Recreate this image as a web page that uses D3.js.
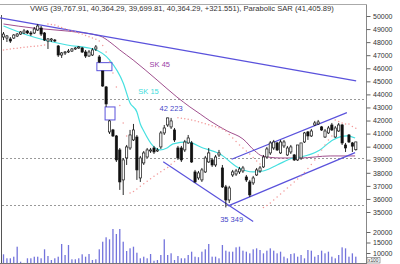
<!DOCTYPE html>
<html><head><meta charset="utf-8">
<script src="https://cdn.jsdelivr.net/npm/d3@7"></script>
<style>html,body{margin:0;padding:0;background:#fff;overflow:hidden}svg{display:block}</style>
</head><body><svg id="c" width="400" height="264"></svg>
<script>
// ---- data ----
const openV = [48390,48315,48240,48315,48470,48620,48700,48850,48700,48700,48930,49080,48700,48085,48160,48160,47705,47015,47170,47245,47320,47475,47550,47550,47245,46940,47015,47475,46865,45790,44570,41125,41280,40820,39750,37455,39135,39900,40515,40740,37605,38755,39210,39670,39900,39670,39980,41050,41660,41510,41280,39900,39900,39750,40285,40285,38065,37605,37455,38065,38830,38985,38600,39365,38370,36920,35920,37835,37910,38065,38140,37680,37300,37225,37835,38140,38450,39210,39520,39900,40285,39520,40055,39365,39595,39365,38985,39135,40360,41125,40820,41660,41740,41510,40740,41050,41660,40740,41200,41660,40130,40895,40285,39767.91];
const highV = [48775,48545,48390,48620,48700,48850,49005,48930,48850,49160,49390,49235,48775,48315,48315,48240,47780,47245,47320,47475,47550,47630,47705,47630,47400,47400,47550,47780,47015,45800,44645,42045,41355,40895,39900,39135,40130,41280,41740,40895,39290,39670,39900,39900,40055,39900,41200,41660,42223,42200,41430,40055,40055,40515,40895,40435,38220,38140,38370,39290,39900,39135,39365,39750,38600,37070,37000,38220,38295,38450,38525,37835,37455,37760,38370,38525,39365,39980,40435,40515,40360,40515,40515,40055,40130,39440,40130,40285,41125,41200,41355,41970,42045,41585,41355,41585,41815,41585,41815,41740,40285,40970,40360,40364.29];
const lowV = [48160,48010,47935,48240,48390,48545,48620,48620,48470,48620,48850,48470,48085,47475,48010,48010,46865,46790,47015,47170,47245,47400,47475,47170,46790,46865,46940,47320,46405,44570,43040,40970,40740,38830,36690,36300,38600,39750,40435,37455,37300,38600,39135,39520,39440,39595,39825,40895,41510,41355,40360,38985,38830,39595,40210,38755,37225,37455,37300,37990,38755,38450,38450,39210,36840,35349,35690,37680,37760,37910,37990,37300,36150,37070,37760,37990,38370,39135,39365,39750,39670,39440,39900,39290,39440,38905,38905,38985,40285,40515,40740,41585,41660,41200,40665,40970,41200,40665,41125,40130,39595,40285,39595,39699.81];
const closeV = [48620,48470,48085,48545,48620,48775,48850,48700,48620,49005,49235,48620,48160,48240,48240,48085,47015,47170,47245,47320,47475,47550,47630,47245,46940,47245,47400,47630,46480,44645,43270,41970,40820,38985,37300,38985,39980,40895,41280,38220,39135,39520,39750,39750,39595,39750,41050,41430,42200,41970,40515,39135,38985,40360,40665,38830,37300,37990,38220,39135,39520,38600,39210,39520,36920,35920,36840,38065,38140,38295,38370,37455,36305,37605,38220,38370,39210,39825,40285,40360,39750,40360,40360,39900,39980,38985,40130,40285,41050,40820,41200,41815,41890,41280,41200,41430,41280,41430,41660,40285,39900,40360,40040,40364.29];
const volumeV = [9380,7480,7480,8240,13000,5860,5300,7480,7480,8240,8240,7480,11760,8570,6670,7480,8240,14290,9050,13800,7000,7000,7480,9380,8240,9520,6670,7000,11760,15380,17480,16520,21430,19050,21430,15380,10950,12240,13000,10140,7480,8240,7480,9520,6330,6670,9050,16520,9050,9860,6670,8570,7480,7480,9050,10620,8240,8000,
  10630,11750,14290,8250,8250,7460,13810,11110,10630,10630,12700,13020,11110,10630,9840,11750,12220,11430,9840,11110,12220,11110,9840,10630,8250,7460,9520,9840,8250,9050,7460,11430,11110,8250,9050,11110,9840,10630,8250,7460,9050,12700,12220,8250,9840,8250];
const sarV = [47400,47440,47475,47505,47535,47570,47600,47630,47660,47680,47705,47745,47780,
  49390,49350,49310,49210,49120,49030,48935,48850,48775,48700,48620,48515,48415,48315,48225,48085,47735,47245,46505,45640,44570,43145,41815,40820,
  36460,36560,36765,36970,37170,37360,37550,37735,37910,38080,38250,38410,38650,38870,
  42220,42180,42140,42090,42040,41980,41910,41830,41750,41680,41600,41520,41450,41360,41200,40935,40670,40400,40130,39900,39670,39440,39175,38910,38680,
  35350,35500,35690,35920,36150,36380,36610,36840,37070,37300,37530,37760,38030,38330,38640,38980,39370,39750,40130,40510,40820,
  42040,41930,41810,41740,41740,41550,41405.89];
const sk15Idx = [0,6.9,18.6,26.2,31,35,37,39,40,41,43.7,45.8,47.8,49.6,53.7,58.3,63.3,68.3,73,75.9,80,84.7,86.7,92.5,96.3,100.4,102.8];
const sk15Val = [49235,48545,47780,47475,46635,44870,43345,42655,41740,41200,40055,39750,39900,40210,40360,39900,39440,38450,38065,38140,38600,39135,39210,39750,40515,40820,40665];
const sk45Idx = [0,8.6,18.6,28.2,31.1,34,37.9,44.9,50.7,54.5,57.5,60.4,65.4,70,73.5,75.6,80.8,86.7,95.5,102.8];
const sk45Val = [49390,49080,48850,48470,48010,47400,46635,45100,43800,43040,42500,41970,41200,40590,39670,39290,39135,39135,39290,39290];
const trendFrom = [[-1,49850],[46.7,38850],[65.7,35465],[66.7,39037]];
const trendTo = [[103.1,45030],[73.0,34265],[102.8,39543],[100.4,42602]];
const gapStart = [27.3,29.7], gapEnd = [31.7,32.6], gapHigh = [46430,43040], gapLow = [45815,42045];
const levelLines = [43650,39140,35540];
const priceTicks = [50000,49000,48000,47000,46000,45000,44000,43000,42000,41000,40000,39000,38000,37000,36000,35000];
const volTicks = [20000,15000,10000];
const headerText = "VWG (39,767.91, 40,364.29, 39,699.81, 40,364.29, +321.551), Parabolic SAR (41,405.89)";
const annotText = ["42 223","35 349","SK 45","SK 15"];
const annotIdx = [49,66.7,45.7,42.4];
const annotVal = [42223,35349,46060,44030];

// ---- scales ----
const svg = d3.select("#c");
const n = closeV.length;
const x = d3.scaleLinear().domain([0, n-1]).range([3.5, 355.8]);
const y = d3.scaleLinear().domain([35000, 50000]).range([212, 16]);
const yv = d3.scaleLinear().domain([10000, 20000]).range([253, 232]);
const right = 366.5, bottom = 263;

// frame
svg.append("line").attr("x1",0).attr("x2",right).attr("y1",4.5).attr("y2",4.5).attr("stroke","#aaa");
svg.append("line").attr("x1",right).attr("x2",right).attr("y1",4.5).attr("y2",264).attr("stroke","#888");
svg.append("line").attr("x1",1.5).attr("x2",1.5).attr("y1",15).attr("y2",264).attr("stroke","#555");
svg.append("line").attr("x1",0).attr("x2",right).attr("y1",bottom+0.5).attr("y2",bottom+0.5).attr("stroke","#777");

svg.append("text").attr("x",30).attr("y",10.5).attr("font-family","Liberation Sans, Arial, sans-serif")
  .attr("font-size",7.6).attr("fill","#333").text(headerText);

// level lines
svg.selectAll(".lvl").data(levelLines).join("line").attr("class","lvl")
  .attr("x1",2).attr("x2",right).attr("y1",d=>Math.round(y(d))+0.5).attr("y2",d=>Math.round(y(d))+0.5)
  .attr("stroke","#999").attr("stroke-dasharray","2,2");

// axes
const fmt = d3.format("d");
const gA = svg.append("g").attr("transform",`translate(${right},0)`)
  .call(d3.axisRight(y).tickValues(priceTicks).tickSize(4).tickPadding(2.5).tickFormat(fmt));
const gV = svg.append("g").attr("transform",`translate(${right},0)`)
  .call(d3.axisRight(yv).tickValues(volTicks).tickSize(4).tickPadding(2.5).tickFormat(fmt));
[gA,gV].forEach(g=>{
  g.select(".domain").remove();
  g.selectAll("line").attr("stroke","#666");
  g.selectAll("text").attr("font-family","Liberation Sans, Arial, sans-serif").attr("font-size",7).attr("fill","#333");
});
svg.append("rect").attr("x",367).attr("y",257.5).attr("width",13).attr("height",5.5).attr("fill","#fff").attr("stroke","#666").attr("stroke-width",0.6);
svg.append("text").attr("x",368).attr("y",262).attr("font-family","Liberation Sans, Arial, sans-serif").attr("font-size",4.8).attr("fill","#333").text("x100");

// volume bars
svg.selectAll(".vol").data(d3.range(n)).join("rect").attr("class","vol")
  .attr("x",i=>x(i)-0.65).attr("width",1.3)
  .attr("y",i=>Math.min(yv(volumeV[i]),bottom)).attr("height",i=>Math.max(0,bottom-yv(volumeV[i])))
  .attr("fill","#7474dc");

// moving averages
const line = d3.line().x(d=>x(d[0])).y(d=>y(d[1])).curve(d3.curveMonotoneX);
svg.append("path").attr("d",line(sk45Idx.map((d,i)=>[d,sk45Val[i]]))).attr("fill","none").attr("stroke","#a0508e").attr("stroke-width",1);
svg.append("path").attr("d",line(sk15Idx.map((d,i)=>[d,sk15Val[i]]))).attr("fill","none").attr("stroke","#46e0e0").attr("stroke-width",1.2);

// trend lines
svg.selectAll(".tr").data(d3.range(trendFrom.length)).join("line").attr("class","tr")
  .attr("x1",i=>x(trendFrom[i][0])).attr("y1",i=>y(trendFrom[i][1]))
  .attr("x2",i=>x(trendTo[i][0])).attr("y2",i=>y(trendTo[i][1]))
  .attr("stroke","#5a52dc").attr("stroke-width",1.2);

// gap boxes
svg.selectAll(".gap").data(d3.range(gapStart.length)).join("rect").attr("class","gap")
  .attr("x",i=>x(gapStart[i])).attr("width",i=>x(gapEnd[i])-x(gapStart[i]))
  .attr("y",i=>y(gapHigh[i])).attr("height",i=>y(gapLow[i])-y(gapHigh[i]))
  .attr("fill","none").attr("stroke","#5a52dc").attr("stroke-width",1);

// parabolic SAR
svg.selectAll(".sar").data(d3.range(n)).join("circle").attr("class","sar")
  .attr("cx",i=>x(i)).attr("cy",i=>y(sarV[i])).attr("r",0.75).attr("fill","#f29a9a");

// candles
const cg = svg.selectAll(".cdl").data(d3.range(n)).join("g").attr("class","cdl");
cg.append("line").attr("x1",i=>x(i)).attr("x2",i=>x(i)).attr("y1",i=>y(highV[i])).attr("y2",i=>y(lowV[i]))
  .attr("stroke","#111").attr("stroke-width",0.9);
cg.append("rect")
  .attr("x",i=>x(i)-1.1).attr("width",2.2)
  .attr("y",i=>y(Math.max(openV[i],closeV[i])))
  .attr("height",i=>Math.max(0.8,Math.abs(y(openV[i])-y(closeV[i]))))
  .attr("fill",i=>closeV[i]>=openV[i]?"#fff":"#111")
  .attr("stroke","#111").attr("stroke-width",0.7);

// annotations
const acol = ["#4646c8","#4646c8","#9a3ea6","#3cdcdc"];
svg.selectAll(".ann").data(d3.range(annotText.length)).join("text").attr("class","ann")
  .attr("x",i=>x(annotIdx[i])).attr("y",(i)=>y(annotVal[i]) + (i===0?-7:(i===1?14.5:0)))
  .attr("text-anchor","middle").attr("font-family","Liberation Sans, Arial, sans-serif").attr("font-size",7.5)
  .attr("fill",i=>acol[i]).text(i=>annotText[i]);
</script></body></html>
